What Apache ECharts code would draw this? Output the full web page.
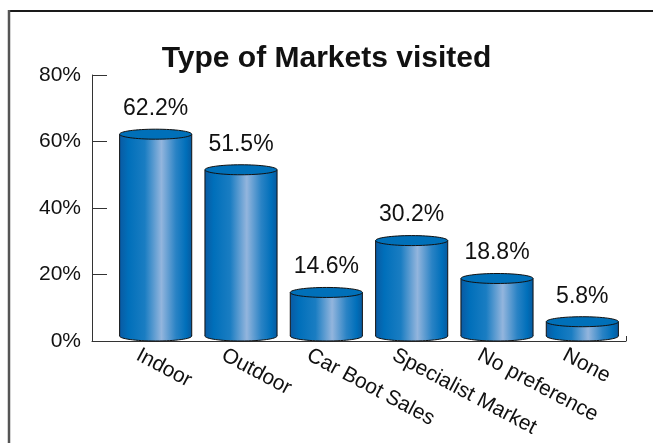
<!DOCTYPE html>
<html>
<head>
<meta charset="utf-8">
<script src="https://cdn.jsdelivr.net/npm/echarts@6/dist/echarts.min.js"></script>
<style>
  html, body { margin: 0; padding: 0; background: #fff; }
  #chart { width: 653px; height: 443px; }
</style>
</head>
<body>
<div id="chart"></div>
<script>
// Survey: share of respondents by market type visited
const categories = ['Indoor', 'Outdoor', 'Car Boot Sales', 'Specialist Market', 'No preference', 'None'];
const shares = [62.2, 51.5, 14.6, 30.2, 18.8, 5.8];
const yTicks = [0, 20, 40, 60, 80];

const FONT = '"Liberation Sans", Arial, Helvetica, sans-serif';
const chart = echarts.init(document.getElementById('chart'), null, { renderer: 'canvas' });

const bodyFill = new echarts.graphic.LinearGradient(0, 0, 1, 0, [
  { offset: 0.00, color: '#0a5aa2' },
  { offset: 0.12, color: '#006fba' },
  { offset: 0.35, color: '#1a7dc2' },
  { offset: 0.58, color: '#93b5dd' },
  { offset: 0.78, color: '#2a83c5' },
  { offset: 0.92, color: '#006fba' },
  { offset: 1.00, color: '#085a9f' }
]);

// Cylinder: bottom ellipse, gradient body, outlined sides, flat-coloured top ellipse, value label
function renderCylinder(params, api) {
  const idx = api.value(0);
  const val = api.value(1);
  const top = api.coord([idx, val]);
  const base = api.coord([idx, 0]);
  const w = api.size([1, 0])[0] * 0.845;
  const rx = w / 2;
  const ry = 5;
  const cx = top[0];
  return {
    type: 'group',
    children: [
      { type: 'ellipse', shape: { cx: cx, cy: base[1] - ry, rx: rx, ry: ry },
        style: { fill: bodyFill, stroke: '#111', lineWidth: 1 } },
      { type: 'rect', shape: { x: cx - rx, y: top[1], width: w, height: base[1] - ry - top[1] },
        style: { fill: bodyFill } },
      { type: 'line', shape: { x1: cx - rx, y1: top[1], x2: cx - rx, y2: base[1] - ry },
        style: { stroke: '#111', lineWidth: 1 } },
      { type: 'line', shape: { x1: cx + rx, y1: top[1], x2: cx + rx, y2: base[1] - ry },
        style: { stroke: '#111', lineWidth: 1 } },
      { type: 'ellipse', shape: { cx: cx, cy: top[1], rx: rx, ry: ry },
        style: { fill: '#0070b9', stroke: '#111', lineWidth: 1 } },
      { type: 'text',
        style: { text: val + '%', x: cx, y: top[1] - ry - 9, align: 'center', verticalAlign: 'bottom',
                 font: '23px ' + FONT, fill: '#111' } }
    ]
  };
}

const option = {
  animation: false,
  backgroundColor: '#ffffff',
  title: {
    text: 'Type of Markets visited',
    left: 'center',
    top: 39,
    textStyle: { fontFamily: FONT, fontSize: 30, fontWeight: 'bold', color: '#111' }
  },
  grid: [
    { left: 113, right: 28, top: 75, bottom: 102 },   // bars
    { left: 92, right: 27, top: 75, bottom: 102 },    // baseline axis
    { left: 95, right: 46, top: 75, bottom: 102 }     // category captions
  ],
  xAxis: [
    { type: 'category', gridIndex: 0, data: categories, boundaryGap: true,
      axisLine: { show: false }, axisTick: { show: false }, axisLabel: { show: false } },
    { type: 'value', gridIndex: 1, min: 0, max: 1,
      axisLine: { show: true, lineStyle: { color: '#333', width: 1 } },
      axisTick: { show: true, inside: true, length: 5, customValues: [1], lineStyle: { color: '#333' } },
      axisLabel: { show: false }, splitLine: { show: false } },
    { type: 'category', gridIndex: 2, data: categories, boundaryGap: true,
      axisLine: { show: false }, axisTick: { show: false },
      axisLabel: { show: true, interval: 0, rotate: -28, margin: 13,
                   fontFamily: FONT, fontSize: 21, color: '#111' } }
  ],
  yAxis: [
    { type: 'value', gridIndex: 0, min: yTicks[0], max: yTicks[yTicks.length - 1], interval: 20,
      offset: 21,
      axisLine: { show: true, lineStyle: { color: '#333', width: 1 } },
      axisTick: { show: true, inside: true, length: 15, lineStyle: { color: '#333' } },
      axisLabel: { formatter: '{value}%', margin: 11, fontFamily: FONT, fontSize: 21, color: '#111' },
      splitLine: { show: false } },
    { type: 'value', gridIndex: 1, show: false, min: 0, max: 80 },
    { type: 'value', gridIndex: 2, show: false, min: 0, max: 80 }
  ],
  series: [
    {
      type: 'custom',
      xAxisIndex: 0,
      yAxisIndex: 0,
      renderItem: renderCylinder,
      data: shares.map((v, i) => [i, v]),
      clip: false
    }
  ],
  graphic: [
    // page frame: top rule and left rule
    { type: 'line', shape: { x1: 8, y1: 11, x2: 653, y2: 11 }, style: { stroke: '#1a1a1a', lineWidth: 2 } },
    { type: 'line', shape: { x1: 9, y1: 10, x2: 9, y2: 443 }, style: { stroke: '#555', lineWidth: 2.5 } }
  ]
};

chart.setOption(option);
</script>
</body>
</html>
